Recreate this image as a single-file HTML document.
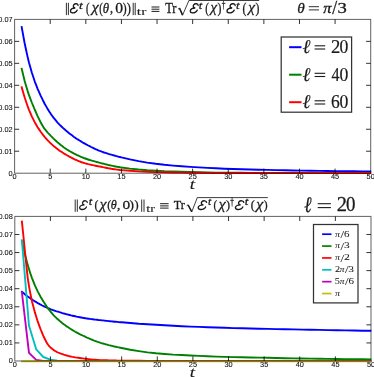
<!DOCTYPE html>
<html><head><meta charset="utf-8"><title>plot</title>
<style>
html,body{margin:0;padding:0;background:#fff;}
body{width:374px;height:377px;overflow:hidden;}
svg{display:block;will-change:transform;opacity:0.999;}
.tk{font-family:"Liberation Sans",sans-serif;font-size:6.70px;fill:#111;stroke:#111;stroke-width:0.08px;}
.ms{font-family:"Liberation Serif",serif;stroke:#1a1a1a;}
.mi{font-family:"Liberation Serif",serif;font-style:italic;stroke:#1a1a1a;}
</style></head><body>
<svg width="374" height="377" viewBox="0 0 374 377" stroke-width="0.3">
<rect width="374" height="377" fill="#fff"/>
<defs><clipPath id="cp"><rect x="14" y="0" width="357.3" height="377"/></clipPath></defs>
<path d="M21.7 27.1L23.2 35.4L24.6 43.0L26.1 50.0L27.5 56.4L28.9 62.2L30.4 67.6L31.8 72.5L33.3 77.0L34.7 81.3L36.2 85.2L37.6 88.8L39.1 92.2L40.5 95.4L42.0 98.4L43.4 101.3L44.8 104.0L46.3 106.6L47.7 109.1L49.2 111.4L50.6 113.6L52.1 115.7L53.5 117.6L55.0 119.4L56.4 121.2L57.8 122.8L59.3 124.3L60.7 125.8L62.2 127.2L63.6 128.6L65.1 129.8L66.5 131.1L68.0 132.3L69.4 133.5L70.9 134.6L72.3 135.6L73.7 136.7L75.2 137.7L76.6 138.7L78.1 139.6L79.5 140.5L81.0 141.4L82.4 142.3L83.9 143.1L85.3 143.9L86.7 144.7L88.2 145.5L89.6 146.2L91.1 147.0L92.5 147.7L94.0 148.4L95.4 149.1L96.9 149.7L98.3 150.3L99.8 150.9L101.2 151.4L102.6 152.0L104.1 152.5L105.5 152.9L107.0 153.4L108.4 153.9L109.9 154.3L111.3 154.7L112.8 155.1L114.2 155.5L115.6 155.9L117.1 156.3L118.5 156.7L120.0 157.0L121.4 157.4L130.0 159.4L138.6 161.1L147.2 162.6L155.8 163.8L164.4 164.8L173.0 165.6L181.6 166.3L190.2 166.9L198.8 167.4L207.4 167.9L216.0 168.3L224.6 168.7L233.2 169.0L241.8 169.3L250.4 169.5L259.0 169.7L267.6 169.9L276.1 170.1L284.7 170.3L293.3 170.5L301.9 170.6L310.5 170.7L319.1 170.9L327.7 171.0L336.3 171.1L344.9 171.2L353.5 171.3L362.1 171.4L370.7 171.4" stroke="#0000ff" stroke-width="1.90" fill="none" stroke-linejoin="round" stroke-linecap="square" clip-path="url(#cp)"/>
<path d="M21.7 68.8L23.2 75.0L24.6 80.7L26.1 85.9L27.5 90.6L28.9 94.9L30.4 98.9L31.8 102.5L33.3 106.1L34.7 109.5L36.2 112.8L37.6 116.1L39.1 119.1L40.5 122.0L42.0 124.7L43.4 127.1L44.8 129.2L46.3 130.9L47.7 132.6L49.2 134.1L50.6 135.6L52.1 137.1L53.5 138.6L55.0 140.0L56.4 141.3L57.8 142.6L59.3 143.8L60.7 145.0L62.2 146.1L63.6 147.2L65.1 148.2L66.5 149.2L68.0 150.1L69.4 151.0L70.9 151.8L72.3 152.6L73.7 153.4L75.2 154.2L76.6 154.9L78.1 155.5L79.5 156.2L81.0 156.8L82.4 157.4L83.9 158.0L85.3 158.5L86.7 159.0L88.2 159.5L89.6 160.0L91.1 160.4L92.5 160.8L94.0 161.2L95.4 161.6L96.9 162.0L98.3 162.4L99.8 162.8L101.2 163.2L102.6 163.5L104.1 163.9L105.5 164.3L107.0 164.6L108.4 165.0L109.9 165.3L111.3 165.6L112.8 165.9L114.2 166.2L115.6 166.5L117.1 166.8L118.5 167.0L120.0 167.3L121.4 167.5L130.0 168.6L138.6 169.5L147.2 170.2L155.8 170.7L164.4 171.2L173.0 171.5L181.6 171.8L190.2 172.0L198.8 172.3L207.4 172.5L216.0 172.6L224.6 172.7L233.2 172.8L241.8 172.8L250.4 172.9L259.0 172.9L267.6 173.0L276.1 173.0L284.7 173.0L293.3 173.0L301.9 173.0L310.5 173.1L319.1 173.1L327.7 173.1L336.3 173.1L344.9 173.1L353.5 173.1L362.1 173.1L370.7 173.1" stroke="#008000" stroke-width="1.90" fill="none" stroke-linejoin="round" stroke-linecap="square" clip-path="url(#cp)"/>
<path d="M21.7 87.3L23.2 92.5L24.6 97.3L26.1 101.7L27.5 105.8L28.9 109.6L30.4 113.2L31.8 116.4L33.3 119.4L34.7 122.2L36.2 124.8L37.6 127.2L39.1 129.4L40.5 131.5L42.0 133.5L43.4 135.3L44.8 137.1L46.3 138.8L47.7 140.4L49.2 141.9L50.6 143.3L52.1 144.6L53.5 145.9L55.0 147.1L56.4 148.2L57.8 149.3L59.3 150.4L60.7 151.4L62.2 152.3L63.6 153.3L65.1 154.1L66.5 155.0L68.0 155.8L69.4 156.6L70.9 157.4L72.3 158.1L73.7 158.9L75.2 159.6L76.6 160.2L78.1 160.8L79.5 161.4L81.0 162.0L82.4 162.5L83.9 162.9L85.3 163.4L86.7 163.7L88.2 164.1L89.6 164.4L91.1 164.8L92.5 165.1L94.0 165.4L95.4 165.7L96.9 166.0L98.3 166.3L99.8 166.5L101.2 166.8L102.6 167.1L104.1 167.4L105.5 167.7L107.0 168.0L108.4 168.3L109.9 168.5L111.3 168.8L112.8 169.0L114.2 169.2L115.6 169.4L117.1 169.6L118.5 169.8L120.0 170.0L121.4 170.1L130.0 170.8L138.6 171.4L147.2 171.8L155.8 172.1L164.4 172.3L173.0 172.5L181.6 172.6L190.2 172.7L198.8 172.8L207.4 172.9L216.0 172.9L224.6 172.9L233.2 173.0L241.8 173.0L250.4 173.0L259.0 173.0L267.6 173.1L276.1 173.1L284.7 173.1L293.3 173.1L301.9 173.1L310.5 173.1L319.1 173.1L327.7 173.1L336.3 173.1L344.9 173.1L353.5 173.1L362.1 173.1L370.7 173.1" stroke="#ff0000" stroke-width="1.90" fill="none" stroke-linejoin="round" stroke-linecap="square" clip-path="url(#cp)"/>
<rect x="14.60" y="19.40" width="356.10" height="153.80" stroke="#000" stroke-opacity="0.62" stroke-width="1" fill="none"/>
<path d="M50.21 173.20v-4.6M50.21 19.40v4.6M85.82 173.20v-4.6M85.82 19.40v4.6M121.43 173.20v-4.6M121.43 19.40v4.6M157.04 173.20v-4.6M157.04 19.40v4.6M192.65 173.20v-4.6M192.65 19.40v4.6M228.26 173.20v-4.6M228.26 19.40v4.6M263.87 173.20v-4.6M263.87 19.40v4.6M299.48 173.20v-4.6M299.48 19.40v4.6M335.09 173.20v-4.6M335.09 19.40v4.6M14.60 151.23h4.6M370.70 151.23h-4.6M14.60 129.26h4.6M370.70 129.26h-4.6M14.60 107.29h4.6M370.70 107.29h-4.6M14.60 85.31h4.6M370.70 85.31h-4.6M14.60 63.34h4.6M370.70 63.34h-4.6M14.60 41.37h4.6M370.70 41.37h-4.6" stroke="#000" stroke-opacity="0.8" stroke-width="1" fill="none"/>
<text transform="translate(14.60 179.20) scale(1.1 1)" text-anchor="middle" class="tk">0</text>
<text transform="translate(50.21 179.20) scale(1.1 1)" text-anchor="middle" class="tk">5</text>
<text transform="translate(85.82 179.20) scale(1.1 1)" text-anchor="middle" class="tk">10</text>
<text transform="translate(121.43 179.20) scale(1.1 1)" text-anchor="middle" class="tk">15</text>
<text transform="translate(157.04 179.20) scale(1.1 1)" text-anchor="middle" class="tk">20</text>
<text transform="translate(192.65 179.20) scale(1.1 1)" text-anchor="middle" class="tk">25</text>
<text transform="translate(228.26 179.20) scale(1.1 1)" text-anchor="middle" class="tk">30</text>
<text transform="translate(263.87 179.20) scale(1.1 1)" text-anchor="middle" class="tk">35</text>
<text transform="translate(299.48 179.20) scale(1.1 1)" text-anchor="middle" class="tk">40</text>
<text transform="translate(335.09 179.20) scale(1.1 1)" text-anchor="middle" class="tk">45</text>
<text transform="translate(370.70 179.20) scale(1.1 1)" text-anchor="middle" class="tk">50</text>
<text transform="translate(12.60 175.50) scale(1.1 1)" text-anchor="end" class="tk">0</text>
<text transform="translate(12.60 153.53) scale(1.1 1)" text-anchor="end" class="tk">0.01</text>
<text transform="translate(12.60 131.56) scale(1.1 1)" text-anchor="end" class="tk">0.02</text>
<text transform="translate(12.60 109.59) scale(1.1 1)" text-anchor="end" class="tk">0.03</text>
<text transform="translate(12.60 87.61) scale(1.1 1)" text-anchor="end" class="tk">0.04</text>
<text transform="translate(12.60 65.64) scale(1.1 1)" text-anchor="end" class="tk">0.05</text>
<text transform="translate(12.60 43.67) scale(1.1 1)" text-anchor="end" class="tk">0.06</text>
<text transform="translate(12.60 21.70) scale(1.1 1)" text-anchor="end" class="tk">0.07</text>
<path d="M21.9 291.8L23.4 293.0L24.8 294.2L26.3 295.4L27.7 296.5L29.2 297.6L30.6 298.6L32.0 299.5L33.5 300.5L34.9 301.4L36.4 302.2L37.8 303.1L39.3 303.9L40.7 304.7L42.2 305.5L43.6 306.2L45.1 306.9L46.5 307.5L47.9 308.2L49.4 308.7L50.8 309.3L52.3 309.8L53.7 310.3L55.2 310.8L56.6 311.3L58.1 311.7L59.5 312.2L61.0 312.6L62.4 313.1L63.8 313.5L65.3 313.9L66.7 314.3L68.2 314.6L69.6 315.0L71.1 315.4L72.5 315.7L74.0 316.0L75.4 316.3L76.9 316.7L78.3 316.9L79.7 317.2L81.2 317.5L82.6 317.8L84.1 318.0L85.5 318.3L87.0 318.5L88.4 318.7L89.9 318.9L91.3 319.1L92.8 319.3L94.2 319.5L95.6 319.6L97.1 319.8L98.5 320.0L100.0 320.1L101.4 320.3L102.9 320.4L104.3 320.6L105.8 320.8L107.2 320.9L108.7 321.1L110.1 321.2L111.5 321.4L113.0 321.5L114.4 321.7L115.9 321.8L117.3 321.9L118.8 322.1L120.2 322.2L121.7 322.3L130.3 323.0L138.9 323.7L147.5 324.2L156.1 324.8L164.6 325.3L173.2 325.7L181.8 326.2L190.4 326.6L199.0 326.9L207.6 327.2L216.2 327.5L224.8 327.8L233.4 328.1L242.0 328.3L250.6 328.5L259.2 328.7L267.8 328.9L276.4 329.1L285.0 329.3L293.6 329.4L302.2 329.6L310.8 329.8L319.4 329.9L328.0 330.1L336.6 330.2L345.2 330.4L353.8 330.5L362.4 330.7L371.0 330.8" stroke="#0000ff" stroke-width="1.90" fill="none" stroke-linejoin="round" stroke-linecap="square" clip-path="url(#cp)"/>
<path d="M21.9 240.8L23.4 247.6L24.8 253.9L26.3 259.6L27.7 264.9L29.2 269.7L30.6 274.1L32.0 278.1L33.5 281.9L34.9 285.4L36.4 288.6L37.8 291.6L39.3 294.4L40.7 297.0L42.2 299.5L43.6 301.8L45.1 304.1L46.5 306.2L47.9 308.3L49.4 310.2L50.8 312.0L52.3 313.7L53.7 315.3L55.2 316.8L56.6 318.2L58.1 319.5L59.5 320.8L61.0 322.0L62.4 323.2L63.8 324.3L65.3 325.3L66.7 326.4L68.2 327.3L69.6 328.3L71.1 329.2L72.5 330.1L74.0 331.0L75.4 331.8L76.9 332.6L78.3 333.4L79.7 334.1L81.2 334.8L82.6 335.5L84.1 336.2L85.5 336.9L87.0 337.6L88.4 338.2L89.9 338.8L91.3 339.4L92.8 340.0L94.2 340.6L95.6 341.1L97.1 341.7L98.5 342.2L100.0 342.6L101.4 343.1L102.9 343.5L104.3 343.9L105.8 344.3L107.2 344.7L108.7 345.1L110.1 345.4L111.5 345.8L113.0 346.1L114.4 346.5L115.9 346.8L117.3 347.1L118.8 347.4L120.2 347.7L121.7 348.0L130.3 349.7L138.9 351.1L147.5 352.4L156.1 353.3L164.6 354.0L173.2 354.6L181.8 355.0L190.4 355.5L199.0 355.9L207.6 356.3L216.2 356.6L224.8 356.9L233.4 357.1L242.0 357.3L250.6 357.5L259.2 357.6L267.8 357.8L276.4 358.0L285.0 358.2L293.6 358.4L302.2 358.5L310.8 358.6L319.4 358.8L328.0 358.9L336.6 359.0L345.2 359.1L353.8 359.2L362.4 359.3L371.0 359.4" stroke="#008000" stroke-width="1.90" fill="none" stroke-linejoin="round" stroke-linecap="square" clip-path="url(#cp)"/>
<path d="M21.9 221.6L23.4 236.0L24.8 250.2L26.3 264.7L27.7 277.8L29.2 287.3L30.6 294.8L32.0 301.4L33.5 307.1L34.9 312.4L36.4 317.2L37.8 321.7L39.3 325.8L40.7 329.5L42.2 333.1L43.6 336.5L45.1 339.5L46.5 342.2L47.9 344.5L49.4 346.4L50.8 347.8L52.3 349.0L53.7 350.1L55.2 351.0L56.6 351.8L58.1 352.5L59.5 353.1L61.0 353.7L62.4 354.2L63.8 354.7L65.3 355.1L66.7 355.5L68.2 355.9L69.6 356.3L71.1 356.6L72.5 356.9L74.0 357.1L75.4 357.4L76.9 357.6L78.3 357.8L79.7 358.0L81.2 358.2L82.6 358.4L84.1 358.6L85.5 358.8L87.0 358.9L88.4 359.1L89.9 359.3L91.3 359.4L92.8 359.6L94.2 359.7L95.6 359.8L97.1 359.9L98.5 360.0L100.0 360.1L101.4 360.1L102.9 360.2L104.3 360.3L105.8 360.3L107.2 360.3L108.7 360.4L110.1 360.4L111.5 360.5L113.0 360.5L114.4 360.5L115.9 360.5L117.3 360.6L118.8 360.6L120.2 360.6L121.7 360.6L130.3 360.8L138.9 360.8L147.5 360.9L156.1 360.9L164.6 360.9L173.2 360.9L181.8 360.9L190.4 360.9L199.0 360.9L207.6 361.0L216.2 361.0L224.8 361.0L233.4 361.0L242.0 361.0L250.6 361.0L259.2 361.0L267.8 361.0L276.4 361.0L285.0 361.0L293.6 361.0L302.2 361.0L310.8 361.0L319.4 361.0L328.0 361.0L336.6 361.0L345.2 361.0L353.8 361.0L362.4 361.0L371.0 361.0" stroke="#ff0000" stroke-width="1.90" fill="none" stroke-linejoin="round" stroke-linecap="square" clip-path="url(#cp)"/>
<path d="M21.9 240.4L29.0 325.8L36.2 349.3L43.3 357.0L50.4 359.6L57.5 360.6L64.7 361.0L371.0 361.0" stroke="#00bfbf" stroke-width="1.90" fill="none" stroke-linejoin="round" stroke-linecap="square" clip-path="url(#cp)"/>
<path d="M21.9 292.3L29.0 352.9L36.2 359.9L43.3 361.0L371.0 361.0" stroke="#bf00bf" stroke-width="1.90" fill="none" stroke-linejoin="round" stroke-linecap="square" clip-path="url(#cp)"/>
<path d="M21.9 361.4L371.0 361.4" stroke="#bfbf00" stroke-width="1.6" fill="none" stroke-linejoin="round" stroke-linecap="square" clip-path="url(#cp)"/>
<rect x="14.80" y="216.40" width="356.20" height="144.60" stroke="#000" stroke-opacity="0.62" stroke-width="1" fill="none"/>
<path d="M50.42 361.00v-4.6M50.42 216.40v4.6M86.04 361.00v-4.6M86.04 216.40v4.6M121.66 361.00v-4.6M121.66 216.40v4.6M157.28 361.00v-4.6M157.28 216.40v4.6M192.90 361.00v-4.6M192.90 216.40v4.6M228.52 361.00v-4.6M228.52 216.40v4.6M264.14 361.00v-4.6M264.14 216.40v4.6M299.76 361.00v-4.6M299.76 216.40v4.6M335.38 361.00v-4.6M335.38 216.40v4.6M14.80 342.93h4.6M371.00 342.93h-4.6M14.80 324.85h4.6M371.00 324.85h-4.6M14.80 306.77h4.6M371.00 306.77h-4.6M14.80 288.70h4.6M371.00 288.70h-4.6M14.80 270.62h4.6M371.00 270.62h-4.6M14.80 252.55h4.6M371.00 252.55h-4.6M14.80 234.47h4.6M371.00 234.47h-4.6" stroke="#000" stroke-opacity="0.8" stroke-width="1" fill="none"/>
<text transform="translate(14.80 367.00) scale(1.1 1)" text-anchor="middle" class="tk">0</text>
<text transform="translate(50.42 367.00) scale(1.1 1)" text-anchor="middle" class="tk">5</text>
<text transform="translate(86.04 367.00) scale(1.1 1)" text-anchor="middle" class="tk">10</text>
<text transform="translate(121.66 367.00) scale(1.1 1)" text-anchor="middle" class="tk">15</text>
<text transform="translate(157.28 367.00) scale(1.1 1)" text-anchor="middle" class="tk">20</text>
<text transform="translate(192.90 367.00) scale(1.1 1)" text-anchor="middle" class="tk">25</text>
<text transform="translate(228.52 367.00) scale(1.1 1)" text-anchor="middle" class="tk">30</text>
<text transform="translate(264.14 367.00) scale(1.1 1)" text-anchor="middle" class="tk">35</text>
<text transform="translate(299.76 367.00) scale(1.1 1)" text-anchor="middle" class="tk">40</text>
<text transform="translate(335.38 367.00) scale(1.1 1)" text-anchor="middle" class="tk">45</text>
<text transform="translate(371.00 367.00) scale(1.1 1)" text-anchor="middle" class="tk">50</text>
<text transform="translate(12.80 363.30) scale(1.1 1)" text-anchor="end" class="tk">0</text>
<text transform="translate(12.80 345.23) scale(1.1 1)" text-anchor="end" class="tk">0.01</text>
<text transform="translate(12.80 327.15) scale(1.1 1)" text-anchor="end" class="tk">0.02</text>
<text transform="translate(12.80 309.07) scale(1.1 1)" text-anchor="end" class="tk">0.03</text>
<text transform="translate(12.80 291.00) scale(1.1 1)" text-anchor="end" class="tk">0.04</text>
<text transform="translate(12.80 272.93) scale(1.1 1)" text-anchor="end" class="tk">0.05</text>
<text transform="translate(12.80 254.85) scale(1.1 1)" text-anchor="end" class="tk">0.06</text>
<text transform="translate(12.80 236.78) scale(1.1 1)" text-anchor="end" class="tk">0.07</text>
<text transform="translate(12.80 218.70) scale(1.1 1)" text-anchor="end" class="tk">0.08</text>
<rect x="281.2" y="37" width="70.4" height="75.2" fill="#fff" stroke="#000" stroke-opacity="0.8" stroke-width="1.25"/>
<path d="M289.10 47.20H301.50" stroke="#0000ff" stroke-width="2.00"/>
<text class="mi" font-size="19.50" transform="translate(302.41 53.20) scale(0.983 1.000)" fill="#1a1a1a" stroke-width="0.15">ℓ</text>
<path d="M314.60 45.80H325.20" stroke="#1a1a1a" stroke-width="1.10"/>
<path d="M314.60 49.00H325.20" stroke="#1a1a1a" stroke-width="1.10"/>
<text class="ms" font-size="18.00" transform="translate(330.98 53.20) scale(1.039 1.000)" fill="#1a1a1a" stroke-width="0.20">2</text>
<text class="ms" font-size="18.00" transform="translate(339.53 53.20) scale(0.983 1.000)" fill="#1a1a1a" stroke-width="0.20">0</text>
<path d="M289.10 74.70H301.50" stroke="#008000" stroke-width="2.00"/>
<text class="mi" font-size="19.50" transform="translate(302.41 80.70) scale(0.983 1.000)" fill="#1a1a1a" stroke-width="0.15">ℓ</text>
<path d="M314.60 73.30H325.20" stroke="#1a1a1a" stroke-width="1.10"/>
<path d="M314.60 76.50H325.20" stroke="#1a1a1a" stroke-width="1.10"/>
<text class="ms" font-size="18.00" transform="translate(331.48 80.70) scale(0.896 1.000)" fill="#1a1a1a" stroke-width="0.20">4</text>
<text class="ms" font-size="18.00" transform="translate(339.53 80.70) scale(0.983 1.000)" fill="#1a1a1a" stroke-width="0.20">0</text>
<path d="M289.10 102.20H301.50" stroke="#ff0000" stroke-width="2.00"/>
<text class="mi" font-size="19.50" transform="translate(302.41 108.20) scale(0.983 1.000)" fill="#1a1a1a" stroke-width="0.15">ℓ</text>
<path d="M314.60 100.80H325.20" stroke="#1a1a1a" stroke-width="1.10"/>
<path d="M314.60 104.00H325.20" stroke="#1a1a1a" stroke-width="1.10"/>
<text class="ms" font-size="18.00" transform="translate(331.05 108.20) scale(0.975 1.000)" fill="#1a1a1a" stroke-width="0.20">6</text>
<text class="ms" font-size="18.00" transform="translate(339.53 108.20) scale(0.983 1.000)" fill="#1a1a1a" stroke-width="0.20">0</text>
<rect x="313.5" y="224.5" width="44.5" height="78.4" fill="#fff" stroke="#000" stroke-opacity="0.8" stroke-width="1.25"/>
<path d="M322.10 234.20H331.50" stroke="#0000ff" stroke-width="1.70"/>
<text class="mi" font-size="8.40" transform="translate(335.35 236.60) scale(1.125 1.000)" fill="#1a1a1a" stroke-width="0.05">π</text>
<text class="ms" font-size="9.50" transform="translate(340.50 237.80) scale(1.364 1.000)" fill="#1a1a1a" stroke-width="0.05">/</text>
<text class="ms" font-size="7.90" transform="translate(344.03 236.60) scale(1.392 1.000)" fill="#1a1a1a" stroke-width="0.05">6</text>
<path d="M322.10 246.07H331.50" stroke="#008000" stroke-width="1.70"/>
<text class="mi" font-size="8.40" transform="translate(335.35 248.47) scale(1.125 1.000)" fill="#1a1a1a" stroke-width="0.05">π</text>
<text class="ms" font-size="9.50" transform="translate(340.50 249.67) scale(1.364 1.000)" fill="#1a1a1a" stroke-width="0.05">/</text>
<text class="ms" font-size="7.90" transform="translate(343.96 248.47) scale(1.440 1.000)" fill="#1a1a1a" stroke-width="0.05">3</text>
<path d="M322.10 257.94H331.50" stroke="#ff0000" stroke-width="1.70"/>
<text class="mi" font-size="8.40" transform="translate(335.35 260.34) scale(1.125 1.000)" fill="#1a1a1a" stroke-width="0.05">π</text>
<text class="ms" font-size="9.50" transform="translate(340.50 261.54) scale(1.364 1.000)" fill="#1a1a1a" stroke-width="0.05">/</text>
<text class="ms" font-size="7.90" transform="translate(343.98 260.34) scale(1.484 1.000)" fill="#1a1a1a" stroke-width="0.05">2</text>
<path d="M322.10 269.81H331.50" stroke="#00bfbf" stroke-width="1.70"/>
<text class="ms" font-size="7.90" transform="translate(334.95 272.21) scale(1.295 1.000)" fill="#1a1a1a" stroke-width="0.05">2</text>
<text class="mi" font-size="8.40" transform="translate(339.75 272.21) scale(1.125 1.000)" fill="#1a1a1a" stroke-width="0.05">π</text>
<text class="ms" font-size="9.50" transform="translate(344.90 273.41) scale(1.364 1.000)" fill="#1a1a1a" stroke-width="0.05">/</text>
<text class="ms" font-size="7.90" transform="translate(348.36 272.21) scale(1.440 1.000)" fill="#1a1a1a" stroke-width="0.05">3</text>
<path d="M322.10 281.68H331.50" stroke="#bf00bf" stroke-width="1.70"/>
<text class="ms" font-size="7.90" transform="translate(334.81 284.08) scale(1.288 1.000)" fill="#1a1a1a" stroke-width="0.05">5</text>
<text class="mi" font-size="8.40" transform="translate(339.75 284.08) scale(1.125 1.000)" fill="#1a1a1a" stroke-width="0.05">π</text>
<text class="ms" font-size="9.50" transform="translate(344.90 285.28) scale(1.364 1.000)" fill="#1a1a1a" stroke-width="0.05">/</text>
<text class="ms" font-size="7.90" transform="translate(348.43 284.08) scale(1.392 1.000)" fill="#1a1a1a" stroke-width="0.05">6</text>
<path d="M322.10 293.55H331.50" stroke="#bfbf00" stroke-width="1.70"/>
<text class="mi" font-size="8.40" transform="translate(335.35 295.95) scale(1.125 1.000)" fill="#1a1a1a" stroke-width="0.05">π</text>
<text class="mi" font-size="15.60" transform="translate(189.67 188.50) scale(1.212 1.000)" fill="#1a1a1a" stroke-width="0.15">t</text>
<text class="mi" font-size="15.60" transform="translate(189.87 376.50) scale(1.212 1.000)" fill="#1a1a1a" stroke-width="0.15">t</text>
<path d="M66.40 2.80V15.10M68.40 2.80V15.10" stroke="#1a1a1a" stroke-width="0.9"/>
<path transform="translate(69.90 3.46) scale(1.000 1.153)" d="M8.2 1.7C8.1 0.2 5.2 -0.3 3.9 1.1C2.8 2.4 3.6 3.8 5.4 3.9C3.0 3.9 0.7 5.0 0.5 6.6C0.4 8.3 3.6 8.6 5.6 7.5C6.5 7.0 7.0 6.4 7.3 5.8" fill="none" stroke="#1a1a1a" stroke-width="1.25" stroke-linecap="round"/>
<text class="mi" font-size="11.20" transform="translate(79.01 8.70) scale(1.196 1.000)" fill="#1a1a1a">t</text>
<text class="ms" font-size="14.00" transform="translate(86.04 12.70) scale(0.751 1.000)" fill="#1a1a1a">(</text>
<text class="mi" font-size="14.70" transform="translate(91.67 12.40) scale(1.082 1.000)" fill="#1a1a1a">χ</text>
<text class="ms" font-size="14.00" transform="translate(99.34 12.70) scale(0.751 1.000)" fill="#1a1a1a">(</text>
<text class="mi" font-size="14.00" transform="translate(102.77 12.70) scale(0.921 1.000)" fill="#1a1a1a">θ</text>
<text class="ms" font-size="14.00" transform="translate(110.04 12.70) scale(0.863 1.000)" fill="#1a1a1a">,</text>
<text class="ms" font-size="14.00" transform="translate(115.21 12.70) scale(1.112 1.000)" fill="#1a1a1a">0</text>
<text class="ms" font-size="14.00" transform="translate(122.82 12.70) scale(0.834 1.000)" fill="#1a1a1a">)</text>
<text class="ms" font-size="14.00" transform="translate(126.80 12.70) scale(0.890 1.000)" fill="#1a1a1a">)</text>
<path d="M133.20 2.80V15.10M135.20 2.80V15.10" stroke="#1a1a1a" stroke-width="0.9"/>
<text class="ms" font-size="11.20" transform="translate(136.85 15.30) scale(1.387 1.000)" fill="#1a1a1a" stroke-width="0.10">tr</text>
<path d="M151.50 7.00H159.40" stroke="#1a1a1a" stroke-width="1.00"/>
<path d="M151.50 9.20H159.40" stroke="#1a1a1a" stroke-width="1.00"/>
<path d="M151.50 11.40H159.40" stroke="#1a1a1a" stroke-width="1.00"/>
<text class="ms" font-size="14.00" transform="translate(165.18 12.70) scale(0.888 1.000)" fill="#1a1a1a">Tr</text>
<path d="M178.00 9.10L179.50 8.10L182.50 15.30L188.90 0.50H259.20" fill="none" stroke="#1a1a1a" stroke-width="0.85"/>
<path d="M179.50 8.30L182.50 14.90" stroke="#1a1a1a" stroke-width="1.5"/>
<path transform="translate(189.70 3.46) scale(1.035 1.153)" d="M8.2 1.7C8.1 0.2 5.2 -0.3 3.9 1.1C2.8 2.4 3.6 3.8 5.4 3.9C3.0 3.9 0.7 5.0 0.5 6.6C0.4 8.3 3.6 8.6 5.6 7.5C6.5 7.0 7.0 6.4 7.3 5.8" fill="none" stroke="#1a1a1a" stroke-width="1.25" stroke-linecap="round"/>
<path transform="translate(226.40 3.46) scale(1.071 1.153)" d="M8.2 1.7C8.1 0.2 5.2 -0.3 3.9 1.1C2.8 2.4 3.6 3.8 5.4 3.9C3.0 3.9 0.7 5.0 0.5 6.6C0.4 8.3 3.6 8.6 5.6 7.5C6.5 7.0 7.0 6.4 7.3 5.8" fill="none" stroke="#1a1a1a" stroke-width="1.25" stroke-linecap="round"/>
<text class="mi" font-size="11.20" transform="translate(198.75 8.70) scale(1.125 1.000)" fill="#1a1a1a">t</text>
<text class="mi" font-size="11.20" transform="translate(235.95 8.70) scale(1.125 1.000)" fill="#1a1a1a">t</text>
<text class="ms" font-size="14.00" transform="translate(205.22 12.70) scale(0.779 1.000)" fill="#1a1a1a">(</text>
<text class="ms" font-size="14.00" transform="translate(242.49 12.70) scale(0.834 1.000)" fill="#1a1a1a">(</text>
<text class="mi" font-size="14.70" transform="translate(210.59 12.40) scale(1.007 1.000)" fill="#1a1a1a">χ</text>
<text class="mi" font-size="14.70" transform="translate(248.13 12.40) scale(1.045 1.000)" fill="#1a1a1a">χ</text>
<text class="ms" font-size="14.00" transform="translate(217.42 12.70) scale(0.834 1.000)" fill="#1a1a1a">)</text>
<text class="ms" font-size="14.00" transform="translate(255.42 12.70) scale(0.834 1.000)" fill="#1a1a1a">)</text>
<text class="ms" font-size="9.80" transform="translate(221.78 8.30) scale(0.745 1.000)" fill="#1a1a1a">†</text>
<path d="M75.20 199.50V211.80M77.30 199.50V211.80" stroke="#1a1a1a" stroke-width="0.9"/>
<path transform="translate(79.10 200.49) scale(1.000 1.112)" d="M8.2 1.7C8.1 0.2 5.2 -0.3 3.9 1.1C2.8 2.4 3.6 3.8 5.4 3.9C3.0 3.9 0.7 5.0 0.5 6.6C0.4 8.3 3.6 8.6 5.6 7.5C6.5 7.0 7.0 6.4 7.3 5.8" fill="none" stroke="#1a1a1a" stroke-width="1.25" stroke-linecap="round"/>
<text class="mi" font-size="10.80" transform="translate(88.75 205.40) scale(1.167 1.000)" fill="#1a1a1a">t</text>
<text class="ms" font-size="13.50" transform="translate(94.49 209.40) scale(0.865 1.000)" fill="#1a1a1a">(</text>
<text class="mi" font-size="14.18" transform="translate(99.83 209.10) scale(1.083 1.000)" fill="#1a1a1a">χ</text>
<text class="ms" font-size="13.50" transform="translate(107.29 209.40) scale(0.865 1.000)" fill="#1a1a1a">(</text>
<text class="mi" font-size="13.50" transform="translate(110.81 209.40) scale(0.902 1.000)" fill="#1a1a1a">θ</text>
<text class="ms" font-size="13.50" transform="translate(117.09 209.40) scale(0.995 1.000)" fill="#1a1a1a">,</text>
<text class="ms" font-size="13.50" transform="translate(122.42 209.40) scale(1.136 1.000)" fill="#1a1a1a">0</text>
<text class="ms" font-size="13.50" transform="translate(129.57 209.40) scale(0.981 1.000)" fill="#1a1a1a">)</text>
<text class="ms" font-size="13.50" transform="translate(134.40 209.40) scale(0.923 1.000)" fill="#1a1a1a">)</text>
<path d="M141.70 199.50V211.80M144.00 199.50V211.80" stroke="#1a1a1a" stroke-width="0.9"/>
<text class="ms" font-size="10.80" transform="translate(146.36 212.00) scale(1.329 1.000)" fill="#1a1a1a" stroke-width="0.10">tr</text>
<path d="M160.10 203.70H168.60" stroke="#1a1a1a" stroke-width="1.00"/>
<path d="M160.10 205.90H168.60" stroke="#1a1a1a" stroke-width="1.00"/>
<path d="M160.10 208.10H168.60" stroke="#1a1a1a" stroke-width="1.00"/>
<text class="ms" font-size="13.50" transform="translate(173.78 209.40) scale(0.905 1.000)" fill="#1a1a1a">Tr</text>
<path d="M186.60 205.80L188.10 204.80L191.70 212.00L197.30 197.60H267.80" fill="none" stroke="#1a1a1a" stroke-width="0.85"/>
<path d="M188.10 205.00L191.70 211.60" stroke="#1a1a1a" stroke-width="1.5"/>
<path transform="translate(197.60 200.49) scale(1.094 1.112)" d="M8.2 1.7C8.1 0.2 5.2 -0.3 3.9 1.1C2.8 2.4 3.6 3.8 5.4 3.9C3.0 3.9 0.7 5.0 0.5 6.6C0.4 8.3 3.6 8.6 5.6 7.5C6.5 7.0 7.0 6.4 7.3 5.8" fill="none" stroke="#1a1a1a" stroke-width="1.25" stroke-linecap="round"/>
<path transform="translate(234.80 200.49) scale(1.094 1.112)" d="M8.2 1.7C8.1 0.2 5.2 -0.3 3.9 1.1C2.8 2.4 3.6 3.8 5.4 3.9C3.0 3.9 0.7 5.0 0.5 6.6C0.4 8.3 3.6 8.6 5.6 7.5C6.5 7.0 7.0 6.4 7.3 5.8" fill="none" stroke="#1a1a1a" stroke-width="1.25" stroke-linecap="round"/>
<text class="mi" font-size="10.80" transform="translate(208.00 205.40) scale(1.058 1.000)" fill="#1a1a1a">t</text>
<text class="mi" font-size="10.80" transform="translate(244.73 205.40) scale(1.203 1.000)" fill="#1a1a1a">t</text>
<text class="ms" font-size="13.50" transform="translate(213.62 209.40) scale(0.808 1.000)" fill="#1a1a1a">(</text>
<text class="ms" font-size="13.50" transform="translate(250.77 209.40) scale(0.894 1.000)" fill="#1a1a1a">(</text>
<text class="mi" font-size="14.18" transform="translate(218.66 209.10) scale(1.109 1.000)" fill="#1a1a1a">χ</text>
<text class="mi" font-size="14.18" transform="translate(256.27 209.10) scale(1.122 1.000)" fill="#1a1a1a">χ</text>
<text class="ms" font-size="13.50" transform="translate(225.91 209.40) scale(0.894 1.000)" fill="#1a1a1a">)</text>
<text class="ms" font-size="13.50" transform="translate(263.82 209.40) scale(0.865 1.000)" fill="#1a1a1a">)</text>
<text class="ms" font-size="9.45" transform="translate(230.18 205.00) scale(0.772 1.000)" fill="#1a1a1a">†</text>
<text class="mi" font-size="15.00" transform="translate(297.35 12.80) scale(1.018 1.000)" fill="#1a1a1a">θ</text>
<path d="M308.80 6.70H319.00" stroke="#1a1a1a" stroke-width="0.90"/>
<path d="M308.80 9.90H319.00" stroke="#1a1a1a" stroke-width="0.90"/>
<text class="mi" font-size="15.00" transform="translate(323.21 12.80) scale(1.093 1.000)" fill="#1a1a1a">π</text>
<text class="ms" font-size="19.00" transform="translate(332.30 14.20) scale(0.928 1.000)" fill="#1a1a1a">/</text>
<text class="ms" font-size="15.60" transform="translate(337.61 12.90) scale(1.195 1.000)" fill="#1a1a1a">3</text>
<text class="mi" font-size="21.80" transform="translate(304.14 211.80) scale(0.798 1.000)" fill="#1a1a1a">ℓ</text>
<path d="M317.70 203.70H330.90" stroke="#1a1a1a" stroke-width="1.10"/>
<path d="M317.70 207.60H330.90" stroke="#1a1a1a" stroke-width="1.10"/>
<text class="ms" font-size="20.30" transform="translate(336.80 211.40) scale(1.008 1.000)" fill="#1a1a1a">2</text>
<text class="ms" font-size="20.30" transform="translate(346.08 211.40) scale(0.930 1.000)" fill="#1a1a1a">0</text>
</svg>
</body></html>
